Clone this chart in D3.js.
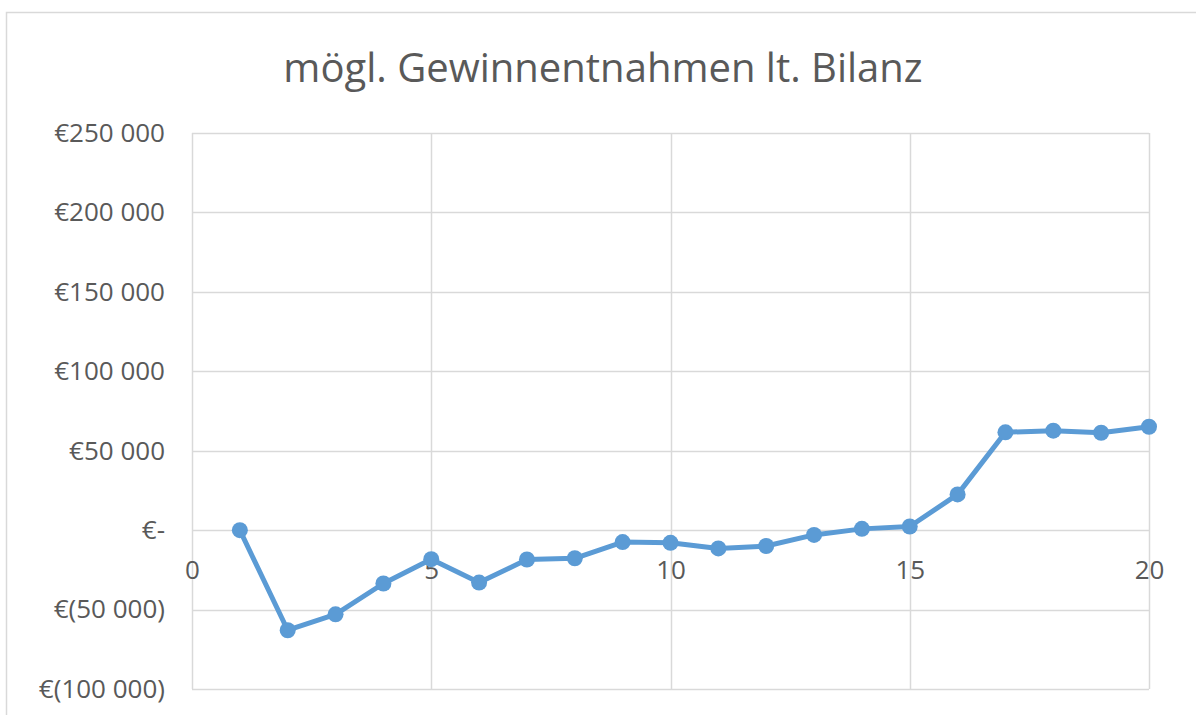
<!DOCTYPE html>
<html>
<head>
<meta charset="utf-8">
<script src="https://cdn.jsdelivr.net/npm/d3@7"></script>
<style>
  body { margin: 0; background: #fff; }
  svg { display: block; }
</style>
</head>
<body>
<svg id="chart" width="1196" height="715"></svg>
<script>
// data
const years = [1, 2, 3, 4, 5, 6, 7, 8, 9, 10, 11, 12, 13, 14, 15, 16, 17, 18, 19, 20];
const values = [0, -63000, -53000, -33600, -18300, -33000, -18500, -17700, -7500, -8000,
                -11500, -10000, -3000, 800, 2300, 22500, 61600, 62600, 61300, 65100];
const xTicks = [0, 5, 10, 15, 20];
const yTicks = [-100000, -50000, 0, 50000, 100000, 150000, 200000, 250000];
const title = 'mögl. Gewinnentnahmen lt. Bilanz';

const width = 1196, height = 715;
const margin = {top: 133, right: 47, bottom: 26, left: 192};
const labelFont = '"Open Sans", "Noto Sans", sans-serif';

const svg = d3.select('#chart');

// outer chart border
svg.append('rect')
    .attr('x', 6.5).attr('y', 12.5)
    .attr('width', 1200).attr('height', 720)
    .attr('fill', 'none')
    .attr('stroke', '#d9d9d9')
    .attr('stroke-width', 1.5);

const x = d3.scaleLinear().domain([0, 20]).range([margin.left, width - margin.right]);
const y = d3.scaleLinear().domain([-100000, 250000]).range([height - margin.bottom, margin.top]);

// accounting style labels, e.g. €(50 000), €-
const fmtNum = (v) => d3.format(',')(v).replace(/,/g, ' ');
const fmtEuro = (v) => v === 0 ? '€-' : v < 0 ? `€(${fmtNum(-v)})` : `€${fmtNum(v)}`;

// gridlines
svg.append('g')
    .selectAll('line')
    .data(yTicks)
    .join('line')
    .attr('x1', margin.left).attr('x2', width - margin.right)
    .attr('y1', (d) => Math.round(y(d)) + 0.5).attr('y2', (d) => Math.round(y(d)) + 0.5)
    .attr('stroke', '#d9d9d9')
    .attr('stroke-width', 1.5);

svg.append('g')
    .selectAll('line')
    .data(xTicks)
    .join('line')
    .attr('x1', (d) => Math.round(x(d)) + 0.5).attr('x2', (d) => Math.round(x(d)) + 0.5)
    .attr('y1', y(-100000)).attr('y2', y(250000))
    .attr('stroke', '#d9d9d9')
    .attr('stroke-width', 1.5);

// y labels
const yAxis = d3.axisLeft(y).tickValues(yTicks).tickFormat(fmtEuro).tickSize(0).tickPadding(27);
svg.append('g')
    .attr('transform', `translate(${margin.left},0)`)
    .call(yAxis)
    .call((g) => g.select('.domain').remove())
    .selectAll('text')
    .attr('fill', '#595959')
    .style('font-family', labelFont)
    .style('font-size', '26px');

// x labels sit just under the zero line
const xAxis = d3.axisBottom(x).tickValues(xTicks).tickFormat(d3.format('d')).tickSize(0).tickPadding(30);
svg.append('g')
    .attr('transform', `translate(0,${y(0)})`)
    .call(xAxis)
    .call((g) => g.select('.domain').remove())
    .selectAll('text')
    .attr('fill', '#595959')
    .style('font-family', labelFont)
    .style('font-size', '26px');

// series line
const line = d3.line()
    .x((d, i) => x(years[i]))
    .y((d) => y(d));

svg.append('path')
    .datum(values)
    .attr('d', line)
    .attr('fill', 'none')
    .attr('stroke', '#5b9bd5')
    .attr('stroke-width', 5)
    .attr('stroke-linejoin', 'round');

svg.append('g')
    .selectAll('circle')
    .data(values)
    .join('circle')
    .attr('cx', (d, i) => x(years[i]))
    .attr('cy', (d) => y(d))
    .attr('r', 8)
    .attr('fill', '#5b9bd5');

// title
svg.append('text')
    .attr('x', 603)
    .attr('y', 82)
    .attr('text-anchor', 'middle')
    .attr('fill', '#595959')
    .style('font-family', '"Open Sans", "Noto Sans", sans-serif')
    .style('font-size', '40px')
    .text(title);
</script>
</body>
</html>
